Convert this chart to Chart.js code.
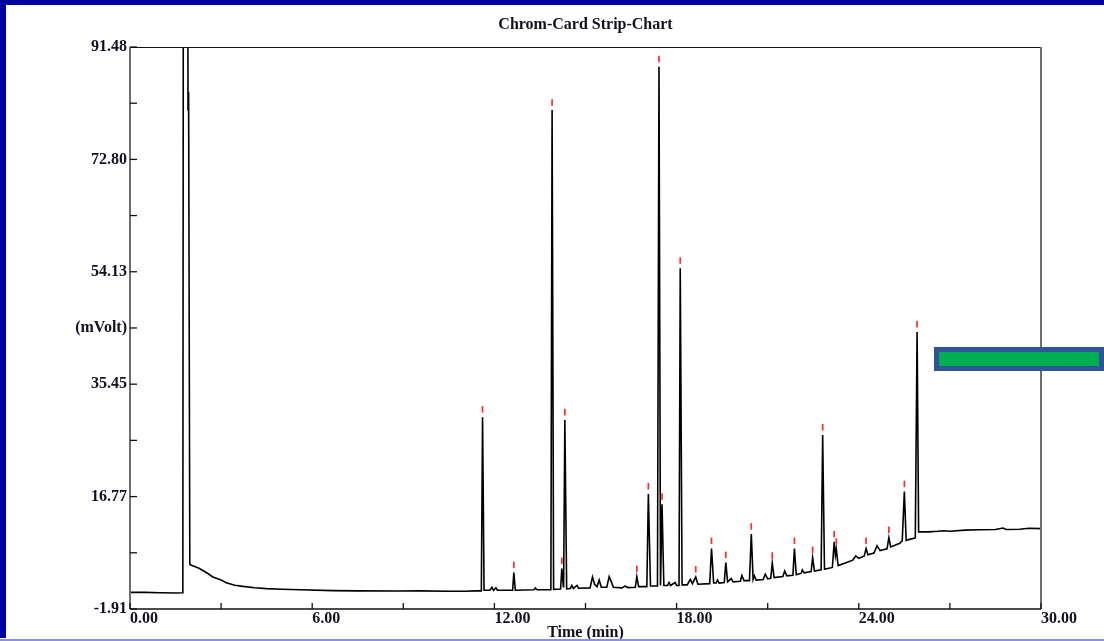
<!DOCTYPE html>
<html>
<head>
<meta charset="utf-8">
<script src="https://cdn.jsdelivr.net/npm/chart.js@4.4.1/dist/chart.umd.min.js"></script>
<style>
  html, body { margin: 0; padding: 0; background: #ffffff; overflow: hidden; }
  #wrap { position: relative; width: 1104px; height: 641px; }
  #c { position: absolute; left: 0; top: 0; }
  .band { position: absolute; background: #0000a0; pointer-events: none; }
  #bottomLine { position: absolute; left: 0; top: 639px; width: 1104px; height: 2px; background: #8f8fe0; }
  #greenBox { position: absolute; left: 934px; top: 347px; width: 170px; height: 24px;
              box-sizing: border-box; border: 5px solid #2f5597; background: #00b050; }
</style>
</head>
<body>
<div id="wrap">
  <canvas id="c" width="1104" height="641"></canvas>
  <div class="band" style="left:0;top:0;width:1104px;height:5px;"></div>
  <div class="band" style="left:0;top:0;width:6px;height:638px;"></div>
  <div id="bottomLine"></div>
  <div id="greenBox"></div>
</div>
<script>
// ---- Data ----
const traceTimes = [
  0.00, 0.50, 1.00, 1.50, 1.74, 1.76, 1.90, 1.91, 1.93, 1.97, 2.02, 2.15, 2.27, 2.50, 2.73, 3.00, 3.17, 3.45, 3.72, 4.10,
  4.49, 5.00, 5.59, 6.68, 7.50, 8.89, 9.50, 10.50, 11.00, 11.40,
  11.57, 11.61, 11.66, 11.85, 11.92, 11.97, 12.05, 12.10, 12.20,
  12.60, 12.64, 12.69, 13.00, 13.30, 13.35, 13.40,
  13.86, 13.90, 13.95, 14.18, 14.22, 14.27, 14.28, 14.32, 14.38,
  14.50, 14.55, 14.60, 14.72, 14.77,
  15.15, 15.23, 15.30, 15.38, 15.45, 15.52, 15.70, 15.78, 15.85, 15.92,
  16.20, 16.30, 16.40, 16.64, 16.69, 16.75,
  17.02, 17.07, 17.14, 17.37, 17.42, 17.47, 17.52, 17.58,
  17.70, 17.75, 17.80, 17.95, 18.00, 18.08, 18.12, 18.18,
  18.35, 18.45, 18.52, 18.63, 18.70, 19.09, 19.15, 19.22,
  19.30, 19.35, 19.40, 19.57, 19.62, 19.68, 19.80, 19.86,
  20.10, 20.15, 20.22, 20.40, 20.46, 20.52, 20.56, 20.62,
  20.85, 20.92, 21.00, 21.10, 21.15, 21.21,
  21.50, 21.56, 21.63, 21.83, 21.88, 21.94,
  22.10, 22.14, 22.20, 22.43, 22.48, 22.54,
  22.76, 22.81, 22.87, 23.13, 23.19, 23.23, 23.26, 23.32,
  23.60, 23.80, 23.90, 24.00, 24.18, 24.24, 24.30,
  24.50, 24.60, 24.70, 24.93, 24.99, 25.05,
  25.35, 25.43, 25.50, 25.56, 25.70, 25.86, 25.92, 25.97,
  26.30, 26.60, 26.80, 27.00, 27.50, 28.00, 28.50, 28.75, 28.85, 29.30, 29.60, 30.00
];
const traceValues = [
  0.85, 0.85, 0.80, 0.75, 0.80, 130.0, 130.0, 81.0, 84.0, 5.53, 5.37, 5.10, 4.87, 4.20, 3.42, 2.90, 2.47, 2.05, 1.85, 1.62,
  1.47, 1.38, 1.30, 1.14, 1.10, 1.09, 1.10, 1.05, 1.05, 1.10,
  1.10, 29.97, 1.20, 1.20, 1.70, 1.20, 1.60, 1.20, 1.20,
  1.20, 4.14, 1.20, 1.25, 1.30, 1.60, 1.30,
  1.30, 80.99, 1.35, 1.40, 4.80, 1.80, 2.00, 29.50, 1.45,
  1.50, 2.00, 1.50, 2.00, 1.55,
  1.60, 3.42, 2.20, 1.80, 2.92, 1.70, 1.70, 3.47, 2.60, 1.70,
  1.60, 1.90, 1.65, 1.70, 3.47, 1.80,
  1.80, 17.20, 1.90, 1.90, 88.20, 2.00, 15.50, 2.00,
  2.00, 2.50, 2.00, 2.50, 2.00, 2.00, 54.70, 2.10,
  2.10, 3.00, 2.30, 3.42, 2.20, 2.30, 8.14, 2.40,
  2.40, 2.90, 2.40, 2.50, 5.80, 2.60, 3.15, 2.60,
  2.70, 3.65, 2.80, 2.80, 10.53, 3.00, 3.60, 2.90,
  3.00, 3.87, 3.10, 3.20, 5.70, 3.30,
  3.50, 4.42, 3.60, 3.70, 8.14, 3.80,
  4.00, 4.60, 4.10, 4.30, 6.63, 4.40,
  4.60, 27.00, 4.70, 5.00, 9.25, 7.00, 8.03, 5.30,
  5.80, 6.20, 6.90, 6.50, 6.90, 8.14, 7.10,
  7.40, 8.59, 7.80, 8.10, 9.97, 8.40,
  9.00, 9.40, 17.60, 9.50, 9.70, 9.90, 44.10, 10.90,
  10.90, 11.00, 11.10, 11.00, 11.20, 11.25, 11.30, 11.55, 11.30, 11.35, 11.50, 11.45
];
// peaks carrying a red integration mark
const peakTimes  = [11.61, 12.64, 13.90, 14.22, 14.32, 16.69, 17.07, 17.42, 17.52, 18.12, 18.63, 19.15,
                    19.62, 20.46, 21.15, 21.88, 22.48, 22.81, 23.19, 23.26, 24.24, 24.99, 25.50, 25.92];
const peakValues = [29.97, 4.14, 80.99, 4.80, 29.50, 3.47, 17.20, 88.20, 15.50, 54.70, 3.42, 8.14,
                    5.80, 10.53, 5.70, 8.14, 6.63, 27.00, 9.25, 8.03, 8.14, 9.97, 17.60, 44.10];
const yTickValues = [-1.91, 7.43, 16.77, 26.11, 35.45, 44.79, 54.13, 63.47, 72.80, 82.14, 91.48];
const yTickLabels = ['-1.91', '', '16.77', '', '35.45', '(mVolt)', '54.13', '', '72.80', '', '91.48'];
const xTickValues = [0, 3, 6, 9, 12, 15, 18, 21, 24, 27, 30];
const xTickLabels = ['0.00', '', '6.00', '', '12.00', '', '18.00', '', '24.00', '', '30.00'];
const chartTitle = 'Chrom-Card Strip-Chart';
const xAxisTitle = 'Time (min)';

const SERIF = '"Liberation Serif", "DejaVu Serif", serif';

const framePlugin = {
  id: 'frame',
  afterDraw(chart) {
    const {ctx, chartArea: a} = chart;
    const xs = chart.scales.x, ys = chart.scales.y;
    ctx.save();
    // title
    ctx.fillStyle = '#111122';
    ctx.font = 'bold 16px ' + SERIF;
    ctx.textAlign = 'center';
    ctx.textBaseline = 'middle';
    ctx.fillText(chartTitle, (a.left + a.right) / 2, 25);
    // frame
    ctx.lineWidth = 1.2; ctx.strokeStyle = '#111';
    ctx.beginPath(); ctx.moveTo(a.left, a.top + 0.5); ctx.lineTo(a.right, a.top + 0.5); ctx.stroke();
    ctx.lineWidth = 2; ctx.strokeStyle = '#6e6e6e';
    ctx.beginPath(); ctx.moveTo(a.right, a.top); ctx.lineTo(a.right, a.bottom); ctx.stroke();
    ctx.beginPath(); ctx.moveTo(a.left, a.top); ctx.lineTo(a.left, a.bottom); ctx.stroke();
    ctx.lineWidth = 1.5; ctx.strokeStyle = '#111';
    ctx.beginPath(); ctx.moveTo(a.left, a.bottom); ctx.lineTo(a.right, a.bottom); ctx.stroke();
    // inward ticks
    ctx.lineWidth = 1.3; ctx.strokeStyle = '#111';
    xTickValues.forEach(v => {
      const px = xs.getPixelForValue(v);
      ctx.beginPath(); ctx.moveTo(px, a.bottom); ctx.lineTo(px, a.bottom - 6); ctx.stroke();
    });
    yTickValues.forEach(v => {
      const py = ys.getPixelForValue(v);
      ctx.beginPath(); ctx.moveTo(a.left, py); ctx.lineTo(a.left + 7, py); ctx.stroke();
    });
    // red peak marks
    ctx.strokeStyle = '#ff2a2a'; ctx.lineWidth = 1.7;
    peakTimes.forEach((t, i) => {
      const px = xs.getPixelForValue(t);
      const py = ys.getPixelForValue(peakValues[i]);
      ctx.beginPath(); ctx.moveTo(px, py - 11); ctx.lineTo(px, py - 4.5); ctx.stroke();
    });
    ctx.restore();
  }
};

new Chart(document.getElementById('c'), {
  type: 'line',
  data: {
    datasets: [{
      data: traceTimes.map((t, i) => ({x: t, y: traceValues[i]})),
      borderColor: '#000000',
      borderWidth: 1.6,
      pointRadius: 0,
      tension: 0,
      fill: false
    }]
  },
  options: {
    responsive: false,
    animation: false,
    layout: { padding: { left: 6, top: 47, right: 63, bottom: 0 } },
    plugins: { legend: { display: false }, title: { display: false }, tooltip: { enabled: false } },
    scales: {
      x: {
        type: 'linear', min: 0, max: 30,
        grid: { display: false, drawTicks: false },
        border: { display: false },
        afterBuildTicks: s => { s.ticks = xTickValues.map(v => ({value: v})); },
        afterFit: s => { s.height = 32; },
        ticks: {
          autoSkip: false, maxRotation: 0, align: 'start', padding: 0,
          color: '#111122', font: { family: SERIF, size: 16, weight: 'bold' },
          callback: (v) => { const i = xTickValues.indexOf(v); return i >= 0 ? xTickLabels[i] : ''; }
        },
        title: { display: true, text: xAxisTitle, color: '#111122', padding: { top: 0, bottom: 0 },
                 font: { family: SERIF, size: 16, weight: 'bold', lineHeight: 1.0 } }
      },
      y: {
        type: 'linear', min: -1.91, max: 91.48,
        grid: { display: false, drawTicks: false },
        border: { display: false },
        afterBuildTicks: s => { s.ticks = yTickValues.map(v => ({value: v})); },
        afterFit: s => { s.width = 124; },
        ticks: {
          autoSkip: false, padding: 3,
          color: '#111122', font: { family: SERIF, size: 16, weight: 'bold' },
          callback: (v) => { const i = yTickValues.indexOf(v); return i >= 0 ? yTickLabels[i] : ''; }
        }
      }
    }
  },
  plugins: [framePlugin]
});
</script>
</body>
</html>
